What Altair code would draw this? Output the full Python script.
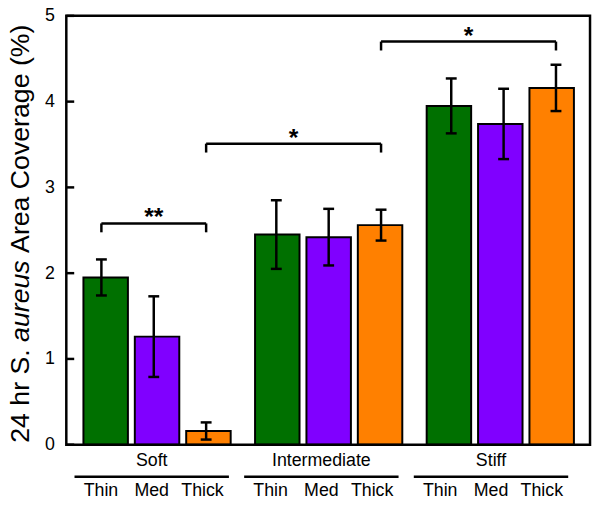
import altair as alt
import pandas as pd

# ---------------- data ----------------
groups = ["Soft", "Intermediate", "Stiff"]
thicknesses = ["Thin", "Med", "Thick"]
colors = ["#007000", "#8000FF", "#FF8000"]

soft_mean = [1.95, 1.26, 0.16]
soft_err = [0.21, 0.47, 0.10]
inter_mean = [2.45, 2.42, 2.56]
inter_err = [0.40, 0.33, 0.18]
stiff_mean = [3.95, 3.74, 4.16]
stiff_err = [0.32, 0.41, 0.27]

bracket_from = [("Soft", "Thin"), ("Soft", "Thick"), ("Intermediate", "Thick")]
bracket_to = [("Soft", "Thick"), ("Intermediate", "Thick"), ("Stiff", "Thick")]
bracket_level = [2.58, 3.51, 4.70]
bracket_label = ["**", "*", "*"]

y_ticks = [0, 1, 2, 3, 4, 5]

# ---------------- layout constants ----------------
W, H = 530, 434
FIRST, GROUP_STEP = 0.67, 3.34
X_DOMAIN = [0, 10]
PX_PER_Y = H / 5.0
CAP_HALF = 5.5 / (W / 10)
LEG = 9 / PX_PER_Y
FONT = "Liberation Sans"
LABEL_FS = 18
TITLE_FS = 27

means = [soft_mean, inter_mean, stiff_mean]
errs = [soft_err, inter_err, stiff_err]


def pos(g, b):
    return FIRST + groups.index(g) * GROUP_STEP + thicknesses.index(b)


rows = []
for gi, g in enumerate(groups):
    for bi, b in enumerate(thicknesses):
        p = pos(g, b)
        m, e = means[gi][bi], errs[gi][bi]
        rows.append(dict(group=g, thickness=b, pos=p, mean=m, lo=m - e, hi=m + e,
                         capl=p - CAP_HALF, capr=p + CAP_HALF))
df = pd.DataFrame(rows)

caps = pd.concat([
    df[["capl", "capr"]].assign(y=df["lo"]),
    df[["capl", "capr"]].assign(y=df["hi"]),
])

seg_rows, star_rows = [], []
for f, t, lvl, lab in zip(bracket_from, bracket_to, bracket_level, bracket_label):
    x1, x2 = pos(*f), pos(*t)
    seg_rows.append(dict(x=x1, x2=x2, y=lvl, y2=lvl))
    seg_rows.append(dict(x=x1, x2=x1, y=lvl, y2=lvl - LEG))
    seg_rows.append(dict(x=x2, x2=x2, y=lvl, y2=lvl - LEG))
    star_rows.append(dict(x=(x1 + x2) / 2, y=lvl, label=lab))
segs = pd.DataFrame(seg_rows)
stars = pd.DataFrame(star_rows)

ticks_df = pd.DataFrame({"t": y_ticks})

grp_df = pd.DataFrame({"group": groups, "c": [pos(g, "Med") for g in groups]})
grp_df["l"] = grp_df["c"] - 1.52
grp_df["r"] = grp_df["c"] + 1.52

xs = alt.Scale(domain=X_DOMAIN, nice=False, zero=False)
xs_lab = alt.Scale(domain=X_DOMAIN, range=[0.6, 514.6], nice=False, zero=False)
ys = alt.Scale(domain=[0, 5], nice=False, zero=True)

yaxis = alt.Axis(values=y_ticks, format="d", domain=False, ticks=False, grid=False,
                 labelFont=FONT, labelFontSize=LABEL_FS, labelColor="black",
                 labelPadding=12, title=None)

bars = alt.Chart(df).mark_bar(size=45, orient="vertical", stroke="black", strokeWidth=2).encode(
    x=alt.X("pos:Q", scale=xs, axis=None),
    y=alt.Y("mean:Q", scale=ys, axis=yaxis),
    color=alt.Color("thickness:N", scale=alt.Scale(domain=thicknesses, range=colors), legend=None),
)

err = alt.Chart(df).mark_rule(color="black", strokeWidth=2.5).encode(
    x=alt.X("pos:Q", scale=xs, axis=None),
    y=alt.Y("lo:Q", scale=ys),
    y2="hi:Q",
)

cap = alt.Chart(caps).mark_rule(color="black", strokeWidth=2.5).encode(
    x=alt.X("capl:Q", scale=xs, axis=None),
    x2="capr:Q",
    y=alt.Y("y:Q", scale=ys),
)

inner_ticks = alt.Chart(ticks_df).mark_rule(color="black", strokeWidth=2.5).encode(
    x=alt.value(0), x2=alt.value(8),
    y=alt.Y("t:Q", scale=ys),
)

frame = alt.Chart(pd.DataFrame({"k": [0]})).mark_rect(
    fill=None, fillOpacity=0, stroke="black", strokeWidth=2.5).encode(
    x=alt.value(0), x2=alt.value(W), y=alt.value(0), y2=alt.value(H),
)

bracket = alt.Chart(segs).mark_rule(color="black", strokeWidth=2.5).encode(
    x=alt.X("x:Q", scale=xs, axis=None), x2="x2:Q",
    y=alt.Y("y:Q", scale=ys), y2="y2:Q",
)

star = alt.Chart(stars).mark_text(font=FONT, fontSize=25, fontWeight="bold", color="black",
                                  baseline="alphabetic", align="center", dy=2).encode(
    x=alt.X("x:Q", scale=xs, axis=None),
    y=alt.Y("y:Q", scale=ys),
    text="label:N",
)

grp_text = alt.Chart(grp_df).mark_text(font=FONT, fontSize=LABEL_FS, color="black",
                                       baseline="middle", align="center").encode(
    x=alt.X("c:Q", scale=xs_lab, axis=None),
    y=alt.value(H + 17),
    text="group:N",
)

grp_line = alt.Chart(grp_df).mark_rule(color="black", strokeWidth=2.5).encode(
    x=alt.X("l:Q", scale=xs_lab, axis=None), x2="r:Q",
    y=alt.value(H + 32.5),
)

sub_text = alt.Chart(df).mark_text(font=FONT, fontSize=LABEL_FS, color="black",
                                   baseline="middle", align="center").encode(
    x=alt.X("pos:Q", scale=xs_lab, axis=None),
    y=alt.value(H + 47),
    text="thickness:N",
)

# y title with italic species name, pieces laid out with Arial-like advance widths
ADV = {"2": 556, "4": 556, " ": 278, "h": 556, "r": 333, "S": 667, ".": 278,
       "a": 556, "u": 556, "e": 556, "s": 500, "A": 667, "C": 722, "o": 556,
       "v": 500, "g": 556, "(": 333, "%": 889, ")": 333}


def text_len(s):
    return sum(ADV.get(ch, 556) for ch in s) / 1000 * TITLE_FS


pieces = [("24 hr S. ", "normal"), ("aureus", "italic"), (" Area Coverage (%)", "normal")]
title_layers = []
start = H - 2
for txt, style in pieces:
    lead = len(txt) - len(txt.lstrip(" "))
    shown = txt.strip(" ")
    s0 = start - text_len(" " * lead)
    title_layers.append(
        alt.Chart(pd.DataFrame({"t": [shown]})).mark_text(
            font=FONT, fontSize=TITLE_FS, fontStyle=style, color="black",
            angle=270, align="left", baseline="alphabetic").encode(
            x=alt.value(-38), y=alt.value(s0), text="t:N")
    )
    start -= text_len(txt)

chart = alt.layer(
    bars, err, cap, inner_ticks, frame, bracket, star, grp_text, grp_line, sub_text, *title_layers
).resolve_scale(x="independent").properties(
    width=W, height=H,
    autosize=alt.AutoSizeParams(type="none"),
    padding={"left": 59, "top": 5, "right": 2, "bottom": 52},
).configure_view(stroke=None).configure(background="white")

chart.save("out.html", embed_options={"renderer": "svg", "actions": False})
